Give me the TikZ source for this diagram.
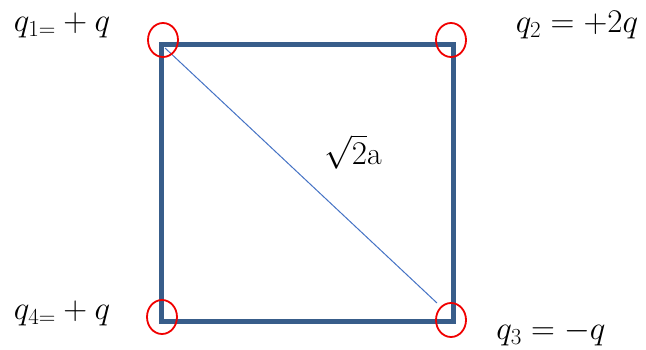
\documentclass[tikz,border=0pt]{standalone}
\usepackage{amsmath, amssymb}
\usepackage{xcolor}
\usepackage{tikz}
\usetikzlibrary{shapes.geometric, calc}
\definecolor{sideblue}{RGB}{56, 93, 138}
\definecolor{diagblue}{RGB}{68, 114, 196}
\definecolor{markred}{RGB}{240, 0, 0}
\newcommand{\bigtext}[1]{\scalebox{1.33}{#1}}

\begin{document}
\begin{tikzpicture}[
  x=1pt, y=-1pt,
  every node/.style={font=\fontsize{24}{28}\selectfont},
  side/.style={draw=sideblue, line width=5pt, line join=miter},
  diag/.style={draw=diagblue, line width=1pt},
  corner/.style={ellipse, draw=markred, line width=1.8pt, minimum width=30pt, minimum height=34pt, inner sep=0pt},
  charge/.style={inner sep=1pt}
]
  \useasboundingbox (0,0) rectangle (646,349);

  % Ecken
  \coordinate (c1) at (161, 44);
  \coordinate (c2) at (453, 44);
  \coordinate (c3) at (453, 321);
  \coordinate (c4) at (161, 321);

  \draw[side] (c1) -- (c2) -- (c3) -- (c4) -- cycle;
  \draw[diag] ($(c1)+(4,4)$) coordinate (d1) -- ($(c3)+(-16,-18)$) coordinate (d3);

  % Markierungen
  \node[corner] (m1) at (163, 40) {};
  \node[corner] (m2) at (451, 40) {};
  \node[corner] (m3) at (451, 320) {};
  \node[corner] (m4) at (162, 317) {};

  % Ladungen
  \node[charge] (q1) at (62, 25) {\bigtext{$q_{1=}+q$}};
  \node[charge] (q2) at (577, 25) {\bigtext{$q_2=+2q$}};
  \node[charge] (q3) at (551, 333) {\bigtext{$q_3=-q$}};
  \node[charge] (q4) at (62, 313) {\bigtext{$q_{4=}+q$}};
  \node[charge] (len) at (353, 152) {\bigtext{$\sqrt{2}$a}};

\end{tikzpicture}
\end{document}
